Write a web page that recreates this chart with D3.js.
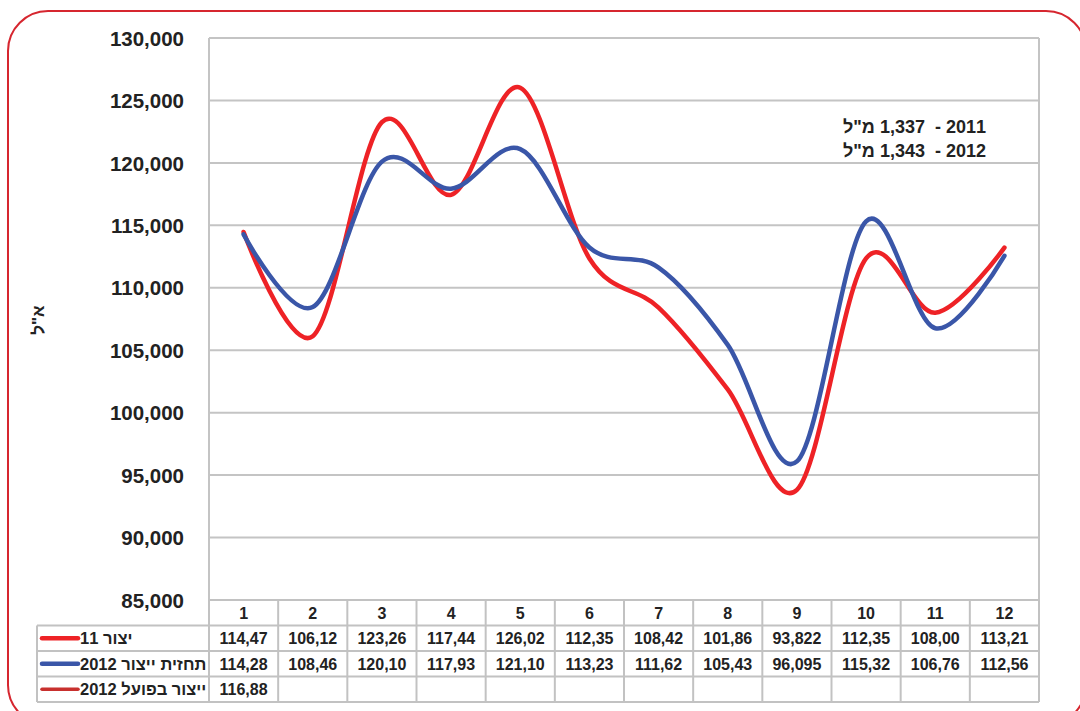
<!DOCTYPE html>
<html>
<head>
<meta charset="utf-8">
<script src="https://cdn.jsdelivr.net/npm/d3@7"></script>
<style>
  html, body { margin: 0; padding: 0; background: #fff; }
  svg { display: block; font-family: "Liberation Sans", Arial, sans-serif; }
</style>
</head>
<body>
<svg id="chart" width="1080" height="711"></svg>
<script>
// ---- data ----
const months = ["1","2","3","4","5","6","7","8","9","10","11","12"];
const prod2011 = [114470, 106120, 123260, 117440, 126020, 112350, 108420, 101860, 93822, 112350, 108000, 113210];
const forecast2012 = [114280, 108460, 120100, 117930, 121100, 113230, 111620, 105430, 96095, 115320, 106760, 112560];
const actual2012 = [116880];
const prod2011Labels = ["114,47","106,12","123,26","117,44","126,02","112,35","108,42","101,86","93,822","112,35","108,00","113,21"];
const forecast2012Labels = ["114,28","108,46","120,10","117,93","121,10","113,23","111,62","105,43","96,095","115,32","106,76","112,56"];
const actual2012Labels = ["116,88"];
const seriesNames = ["יצור 11", "תחזית ייצור 2012", "ייצור בפועל 2012"];
const yTicks = [85000, 90000, 95000, 100000, 105000, 110000, 115000, 120000, 125000, 130000];
const yAxisTitle = "א\"ל";
const noteLines = ["2011 -\u00a0\u00a01,337 מ\"ל", "2012 -\u00a0\u00a01,343 מ\"ל"];

// ---- layout ----
const svg = d3.select("#chart");
const plot = {left: 209, right: 1039, top: 38, bottom: 600};
const tableLeft = 37;
const rowH = 25.5;
const colors = ["#ee2226", "#3a56a8", "#c8302e"];
const swatchW = [4.5, 4.5, 3.5];
const gridColor = "#c4c4c4";

// frame
svg.append("rect")
  .attr("x", 8).attr("y", 11).attr("width", 1078).attr("height", 714)
  .attr("rx", 40).attr("ry", 40)
  .attr("fill", "none").attr("stroke", "#d6262f").attr("stroke-width", 2);

const x = d3.scaleBand().domain(months).range([plot.left, plot.right]).padding(0);
const y = d3.scaleLinear().domain([85000, 130000]).range([plot.bottom, plot.top]);

// gridlines
svg.append("g").selectAll("line").data(yTicks).join("line")
  .attr("x1", plot.left).attr("x2", plot.right)
  .attr("y1", d => y(d)).attr("y2", d => y(d))
  .attr("stroke", gridColor).attr("stroke-width", 2);

// plot border verticals
svg.append("line").attr("x1", plot.left).attr("x2", plot.left).attr("y1", plot.top).attr("y2", plot.bottom)
  .attr("stroke", gridColor).attr("stroke-width", 2);
svg.append("line").attr("x1", plot.right).attr("x2", plot.right).attr("y1", plot.top).attr("y2", plot.bottom)
  .attr("stroke", gridColor).attr("stroke-width", 2);

// y axis labels
const yAxis = d3.axisLeft(y).tickValues(yTicks).tickSize(0).tickPadding(0)
  .tickFormat(d3.format(","));
const yg = svg.append("g").attr("transform", `translate(184,0)`).call(yAxis);
yg.select(".domain").remove();
yg.selectAll("text").attr("font-size", 20.5).attr("font-weight", "bold").attr("fill", "#222")
  .attr("font-family", "Liberation Sans, Arial, sans-serif").attr("dy", "0.35em");

// y axis title
svg.append("text")
  .attr("transform", "translate(44,320) rotate(-90)")
  .attr("text-anchor", "middle").attr("direction", "rtl")
  .attr("font-size", 17).attr("font-weight", "bold").attr("fill", "#222")
  .text(yAxisTitle);

// lines
const line = d3.line()
  .x((d, i) => x(months[i]) + x.bandwidth() / 2)
  .y(d => y(d))
  .curve(d3.curveCardinal.tension(0));

[prod2011, forecast2012].forEach((s, k) => {
  svg.append("path").datum(s)
    .attr("d", line)
    .attr("fill", "none")
    .attr("stroke", colors[k]).attr("stroke-width", 4.5)
    .attr("stroke-linecap", "round").attr("stroke-linejoin", "round");
});

// annotation
noteLines.forEach((t, i) => {
  svg.append("text")
    .attr("x", 986).attr("y", 133 + i * 24)
    .attr("direction", "rtl").attr("text-anchor", "start")
    .attr("font-size", 18).attr("font-weight", "bold").attr("fill", "#222")
    .style("white-space", "pre")
    .text(t);
});

// ---- data table ----
const tbl = svg.append("g");
const tableStroke = "#c2c2c2";
const rows = [prod2011Labels, forecast2012Labels, actual2012Labels];
const tableBottom = plot.bottom + rowH * 4;

// horizontal lines
tbl.append("line").attr("x1", plot.left).attr("x2", plot.right)
  .attr("y1", plot.bottom).attr("y2", plot.bottom).attr("stroke", tableStroke).attr("stroke-width", 2);
[1, 2, 3, 4].forEach(r => {
  tbl.append("line").attr("x1", tableLeft).attr("x2", plot.right)
    .attr("y1", plot.bottom + r * rowH).attr("y2", plot.bottom + r * rowH)
    .attr("stroke", tableStroke).attr("stroke-width", 2);
});
// vertical lines
months.forEach((m) => {
  tbl.append("line").attr("x1", x(m)).attr("x2", x(m))
    .attr("y1", plot.bottom).attr("y2", tableBottom)
    .attr("stroke", tableStroke).attr("stroke-width", 2);
});
tbl.append("line").attr("x1", plot.right).attr("x2", plot.right)
  .attr("y1", plot.bottom).attr("y2", tableBottom).attr("stroke", tableStroke).attr("stroke-width", 2);
tbl.append("line").attr("x1", tableLeft).attr("x2", tableLeft)
  .attr("y1", plot.bottom + rowH).attr("y2", tableBottom).attr("stroke", tableStroke).attr("stroke-width", 2);

// header
tbl.selectAll("text.hdr").data(months).join("text")
  .attr("class", "hdr")
  .attr("x", d => x(d) + x.bandwidth() / 2).attr("y", plot.bottom + rowH / 2)
  .attr("dy", "0.36em").attr("text-anchor", "middle")
  .attr("font-size", 16).attr("font-weight", "bold").attr("fill", "#222")
  .text(d => d);

// rows
rows.forEach((r, ri) => {
  const cy = plot.bottom + rowH * (ri + 1) + rowH / 2;
  tbl.selectAll(null).data(r).join("text")
    .attr("x", (d, i) => x(months[i]) + x.bandwidth() / 2).attr("y", cy)
    .attr("dy", "0.36em").attr("text-anchor", "middle")
    .attr("font-size", 16).attr("font-weight", "bold").attr("fill", "#222")
    .text(d => d);
  // legend swatch
  tbl.append("line").attr("x1", 42).attr("x2", 78).attr("y1", cy).attr("y2", cy)
    .attr("stroke", colors[ri]).attr("stroke-width", swatchW[ri]).attr("stroke-linecap", "round");
  tbl.append("text")
    .attr("x", 80).attr("y", cy).attr("dy", "0.36em")
    .attr("direction", "rtl").attr("text-anchor", "end")
    .attr("font-size", 16.5).attr("font-weight", "bold").attr("fill", "#222")
    .text(seriesNames[ri]);
});
</script>
</body>
</html>
